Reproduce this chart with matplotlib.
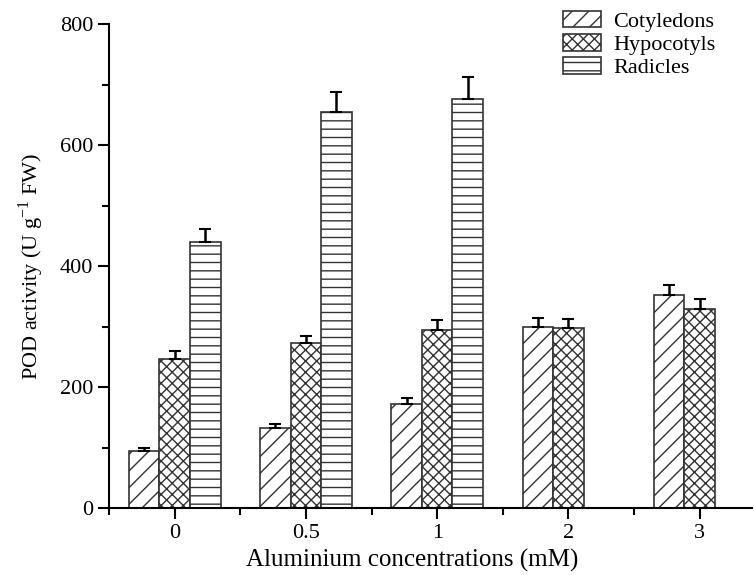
"""POD activity in cotyledons, hypocotyls and radicles under different aluminium concentrations."""

import numpy as np
import matplotlib
matplotlib.use("Agg")
import matplotlib.pyplot as plt

concentrations = ["0", "0.5", "1", "2", "3"]
tissues = ["Cotyledons", "Hypocotyls", "Radicles"]
hatches = ["//", "xxx", "--"]

cotyledons = [94, 132, 172, 299, 352]
cotyledons_err = [5, 7, 10, 15, 17]
hypocotyls = [247, 272, 294, 298, 329]
hypocotyls_err = [13, 13, 16, 14, 16]
radicles = [440, 655, 676, np.nan, np.nan]
radicles_err = [21, 33, 36, np.nan, np.nan]

plt.rcParams["font.family"] = ["Liberation Serif", "DejaVu Serif"]
plt.rcParams["hatch.linewidth"] = 1.0
plt.rcParams["hatch.color"] = "black"

fig = plt.figure(figsize=(7.54, 5.75), dpi=100)
ax = fig.add_axes([0.1446, 0.1165, 0.853, 0.8417])

x = np.arange(len(concentrations))
width = 0.233
series = [(cotyledons, cotyledons_err), (hypocotyls, hypocotyls_err), (radicles, radicles_err)]
for i, ((vals, errs), name, h) in enumerate(zip(series, tissues, hatches)):
    vals = np.array(vals, dtype=float)
    errs = np.array(errs, dtype=float)
    pos = x + (i - 1) * width
    ax.bar(pos, vals, width, facecolor="white", edgecolor="#333333", linewidth=1.2,
           hatch=h, label=name, zorder=2)
    ax.errorbar(pos, vals, yerr=[np.zeros_like(errs), errs], fmt="none", ecolor="black",
                elinewidth=1.8, capsize=4, capthick=1.5, zorder=3)

ax.set_xlim(-0.5, 4.4)
ax.set_ylim(0, 800)
ax.set_xticks(x)
ax.set_xticklabels(concentrations)
ax.set_xticks([-0.5, 0.5, 1.5, 2.5, 3.5], minor=True)
ax.set_yticks([0, 200, 400, 600, 800])
ax.set_yticks([100, 300, 500, 700], minor=True)

ax.spines["top"].set_visible(False)
ax.spines["right"].set_visible(False)
ax.spines["left"].set_linewidth(1.5)
ax.spines["bottom"].set_linewidth(1.5)
ax.tick_params(which="major", length=8, width=1.5, labelsize=16, direction="out")
ax.tick_params(which="minor", length=5, width=1.5, direction="out")

ax.set_xlabel("Aluminium concentrations (mM)", fontsize=18)
ax.xaxis.set_label_coords(0.472, -0.085)
ax.set_ylabel("POD activity (U g$^{\\mathregular{-1}}$ FW)", fontsize=16, labelpad=10)

ax.legend(loc="upper left", bbox_to_anchor=(0.732, 1.0), bbox_transform=fig.transFigure,
          frameon=False, fontsize=16, borderpad=0, handlelength=1.7, handleheight=0.75,
          labelspacing=0.1, handletextpad=0.55)

fig.savefig("out.png", dpi=100)
